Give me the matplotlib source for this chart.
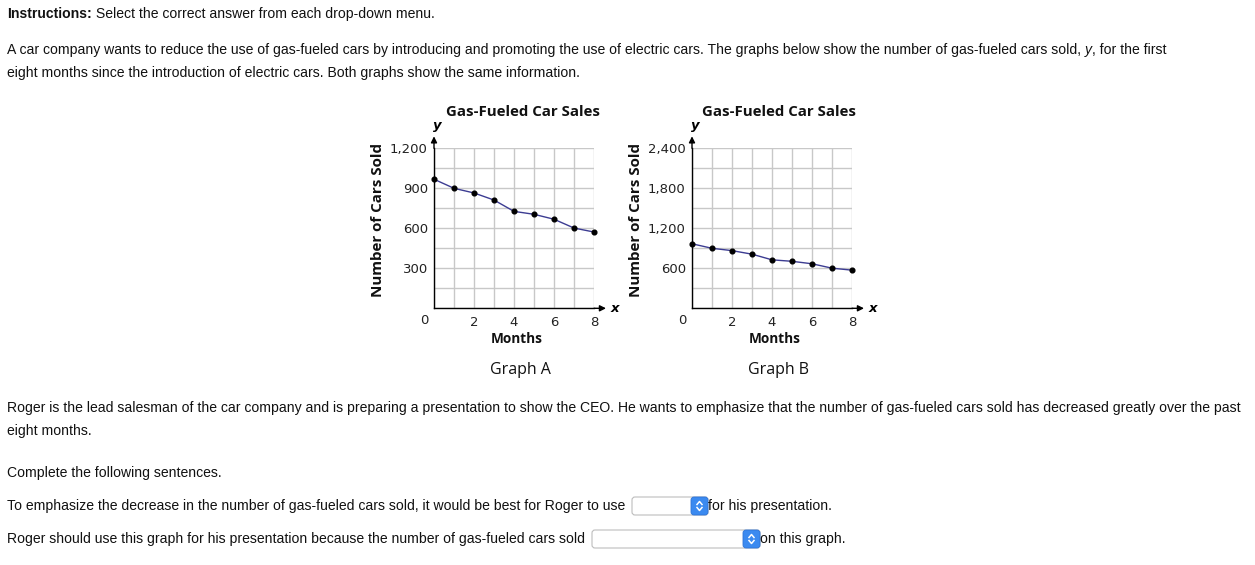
import matplotlib
matplotlib.use('Agg')
import matplotlib.pyplot as plt
import matplotlib.transforms as mtransforms
from matplotlib.patches import FancyBboxPatch
from matplotlib.lines import Line2D
import numpy as np

# ---------------- data ----------------
months = [0, 1, 2, 3, 4, 5, 6, 7, 8]
cars_sold = [968, 900, 865, 812, 727, 705, 668, 602, 572]
x_tick_labels = [2, 4, 6, 8]

graph_a_ymax = 1200
graph_a_grid = [0, 150, 300, 450, 600, 750, 900, 1050, 1200]
graph_a_ylabels = [300, 600, 900, 1200]

graph_b_ymax = 2400
graph_b_grid = [0, 300, 600, 900, 1200, 1500, 1800, 2100, 2400]
graph_b_ylabels = [600, 1200, 1800, 2400]

chart_title = "Gas-Fueled Car Sales"
x_title = "Months"
y_title = "Number of Cars Sold"

# ---------------- figure ----------------
W, H = 1255, 565
fig = plt.figure(figsize=(W / 100, H / 100), dpi=100)
fig.patch.set_facecolor('white')
renderer = fig.canvas.get_renderer()
# pixel transform, y downward
T = mtransforms.Affine2D().scale(1 / W, -1 / H).translate(0, 1) + fig.transFigure

BODY = 'Liberation Sans'
BODY_SIZE = 10.12
TXT = '#111111'


def run(x, y, pieces):
    """Draw consecutive text runs on a baseline; returns end x in pixels."""
    for s, kw in pieces:
        props = dict(family=BODY, size=BODY_SIZE, color=TXT)
        props.update(kw)
        t = fig.text(x, y, s, transform=T, ha='left', va='baseline', **props)
        bb = t.get_window_extent(renderer)
        x += bb.width
    return x


def dropdown(x0, x1, yc, h=18):
    box = FancyBboxPatch((x0, yc - h / 2), x1 - x0, h,
                         boxstyle='round,pad=0,rounding_size=3',
                         transform=T, facecolor='white', edgecolor='#bdbdbd',
                         lw=0.8)
    fig.patches.append(box)
    bw = 17
    btn = FancyBboxPatch((x1 - bw, yc - h / 2), bw, h,
                         boxstyle='round,pad=0,rounding_size=3',
                         transform=T, facecolor='#3b8af0', edgecolor='#2f74d6',
                         lw=0.6)
    fig.patches.append(btn)
    cx = x1 - bw / 2
    for sgn in (-1, 1):
        fig.lines.append(Line2D([cx - 2.5, cx, cx + 2.5],
                                [yc + sgn * 1.5, yc + sgn * 4.5, yc + sgn * 1.5],
                                transform=T, color='white', lw=1.1))


# ---- top text ----
run(7, 18, [("Instructions:", dict(weight='bold')),
            (" Select the correct answer from each drop-down menu.", {})])
run(7, 54, [("A car company wants to reduce the use of gas-fueled cars by introducing and "
             "promoting the use of electric cars. The graphs below show the number of "
             "gas-fueled cars sold, ", {}),
            ("y", dict(style='italic')),
            (", for the first", {})])
run(7, 77, [("eight months since the introduction of electric cars. Both graphs show the same information.", {})])

# ---- bottom text ----
run(7, 412, [("Roger is the lead salesman of the car company and is preparing a presentation to "
              "show the CEO. He wants to emphasize that the number of gas-fueled cars sold has "
              "decreased greatly over the past", {})])
run(7, 435, [("eight months.", {})])
run(7, 477, [("Complete the following sentences.", {})])
dropdown(632, 708, 506)
run(7, 510, [("To emphasize the decrease in the number of gas-fueled cars sold, it would be best "
              "for Roger to use", {})])
run(708, 510, [("for his presentation.", {})])
dropdown(592, 760, 539)
run(7, 543, [("Roger should use this graph for his presentation because the number of "
              "gas-fueled cars sold", {})])
run(760, 543, [("on this graph.", {})])

# ---------------- graphs ----------------
TICK_FONT = 'DejaVu Sans'
HEAD_FONT = 'Open Sans'
TICK_SIZE = 9.5


def fmt(v):
    return f"{v:,}"


def graph(left, ymax, grid_vals, ylab_vals, name, center_shift):
    top, bottom = 148.3, 308.3
    w = 160
    ax = fig.add_axes([left / W, 1 - bottom / H, w / W, (bottom - top) / H])
    ax.set_xlim(0, 8)
    ax.set_ylim(0, ymax)
    ax.set_xticks(months)
    ax.set_xticklabels([str(m) if m in x_tick_labels else '' for m in months])
    ax.set_yticks(grid_vals)
    ax.set_yticklabels([fmt(v) if v in ylab_vals else '' for v in grid_vals])
    ax.tick_params(length=0, labelsize=TICK_SIZE, colors='#222222')
    ax.tick_params(axis='y', pad=4.5)
    ax.tick_params(axis='x', pad=5.5)
    for lab in ax.get_xticklabels() + ax.get_yticklabels():
        lab.set_family(TICK_FONT)
    ax.grid(True, color='#c8c8c8', lw=1)
    ax.set_axisbelow(True)
    for s in ('top', 'right'):
        ax.spines[s].set_visible(False)
    for s in ('left', 'bottom'):
        ax.spines[s].set_color('black')
        ax.spines[s].set_linewidth(1)
        ax.spines[s].set_zorder(3)
    ax.plot(months, cars_sold, color='#3c3c92', lw=1, marker='o', ms=3.4,
            mfc='black', mec='black', clip_on=False, zorder=4)
    # arrows
    ax.annotate('', xy=(0, 1.075), xytext=(0, 1.0), xycoords='axes fraction',
                arrowprops=dict(arrowstyle='-|>', color='black', lw=1,
                                mutation_scale=9, shrinkA=0, shrinkB=0))
    ax.annotate('', xy=(1.075, 0), xytext=(1.0, 0), xycoords='axes fraction',
                arrowprops=dict(arrowstyle='-|>', color='black', lw=1,
                                mutation_scale=9, shrinkA=0, shrinkB=0))
    cx = left + w / 2
    # origin zero
    fig.text(left - 10, 321, "0", transform=T, ha='center', va='center',
             family=TICK_FONT, size=TICK_SIZE, color='#222222')
    # axis letters
    fig.text(left + 3, 125, "y", transform=T, ha='center', va='center',
             family=TICK_FONT, size=9.5, weight='bold', style='italic')
    fig.text(left + 181, 309, "x", transform=T, ha='center', va='center',
             family=TICK_FONT, size=9.5, weight='bold', style='italic')
    fig.text(cx + center_shift + 1, 112, chart_title, transform=T, ha='center',
             va='center', family=HEAD_FONT, size=10.8, weight='bold', color='#111111')
    fig.text(cx + 3, 339, x_title, transform=T, ha='center', va='center',
             family=HEAD_FONT, size=9.8, weight='bold', color='#111111')
    fig.text(left - 56, 220, y_title, transform=T, ha='center', va='center',
             rotation=90, family=HEAD_FONT, size=10.9, weight='bold', color='#111111')
    fig.text(cx + 6, 370, name, transform=T, ha='center', va='center',
             family=HEAD_FONT, size=11.5, color='#111111')
    return ax


graph(434, graph_a_ymax, graph_a_grid, graph_a_ylabels, "Graph A", 8)
graph(692, graph_b_ymax, graph_b_grid, graph_b_ylabels, "Graph B", 6)

fig.savefig('out.png', dpi=100, facecolor='white')
